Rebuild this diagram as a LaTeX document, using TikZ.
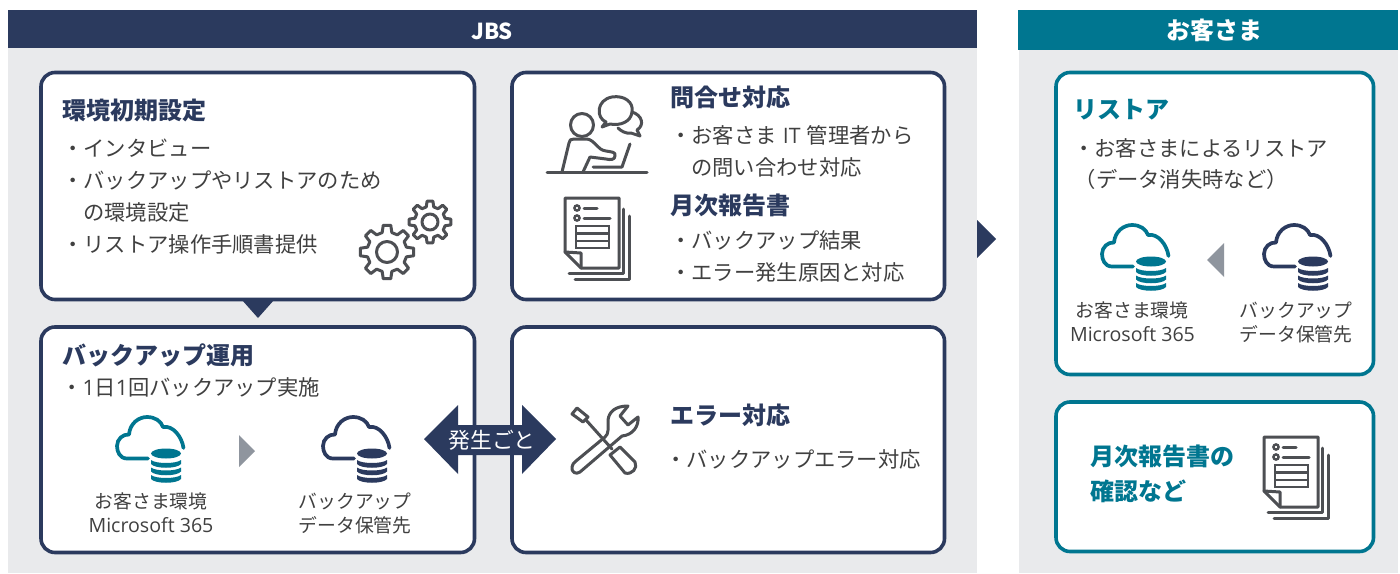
\documentclass[tikz,border=0pt]{standalone}
\usepackage{fontspec}
\setmainfont{Noto Sans CJK JP}
\newfontfamily\latinf{Open Sans}
\definecolor{navy}{HTML}{2B3A5E}
\definecolor{teal}{HTML}{007690}
\definecolor{panel}{HTML}{E9EAEC}
\definecolor{icongray}{HTML}{4D4F53}
\definecolor{txt}{HTML}{404040}
\definecolor{arrowgray}{HTML}{8F959E}
\tikzset{
  box/.style={draw=#1,line width=3.6pt,rounded corners=14pt,fill=white},
  iconline/.style={draw=icongray,line width=3pt,line join=round,line cap=round},
  body/.style={anchor=west,inner sep=0pt,text=txt,font=\fontsize{21.3}{25}\selectfont,text height=15pt,text depth=4pt},
  small/.style={anchor=center,inner sep=0pt,text=txt,font=\fontsize{18.8}{23}\selectfont,text height=14pt,text depth=4pt},
  head/.style={anchor=west,inner sep=0pt,text=#1,font=\fontsize{24}{28}\bfseries\selectfont,text height=17pt,text depth=5pt},
  band/.style={anchor=center,inner sep=0pt,text=white,font=\fontsize{#1}{26}\bfseries\selectfont}
}
\newcommand\cloudicon[3]{%
\begin{scope}[shift={(#1,#2)}]
  \draw[#3,line width=3.7pt,line cap=round,line join=round]
    (33,43.5) -- (12,43.5) .. controls (5,43.5) and (2,37) .. (2,31)
    .. controls (2,24) and (8,19) .. (14,19.5)
    .. controls (15,8) and (24,2) .. (32,2)
    .. controls (40,2) and (46,6) .. (48,12)
    .. controls (58,10) and (67,22) .. (68.5,33);
  \fill[#3] (51,38.5) ellipse [x radius=15,y radius=5];
  \foreach \b in {45,52.5,60}{
    \fill[#3] (36,\b) .. controls (41,\b+4) and (61,\b+4) .. (66,\b) -- (66,\b+4)
      .. controls (62,\b+9) and (40,\b+9) .. (36,\b+4) -- cycle;
  }
\end{scope}}
\newcommand\gearicon[6]{%
\begin{scope}[shift={(#1,#2)}]
  \draw[iconline] (-14:#4) \foreach \a in {0,45,...,315}{
     -- ({\a-14}:#4) -- ({\a-#6}:#3) -- ({\a+#6}:#3) -- ({\a+14}:#4) } -- cycle;
  \draw[iconline] (0,0) circle [radius=#5];
\end{scope}}
\newcommand\docicon[2]{%
\begin{scope}[shift={(#1,#2)}]
  \draw[iconline] (565,198) -- (619,198) -- (619,268) -- (581,268) -- (565,252) -- cycle;
  \draw[iconline] (565,252) -- (581,253) -- (581,268);
  \draw[iconline] (623.5,209) -- (623.5,273.5) -- (569,273.5);
  \draw[iconline] (629.5,216) -- (629.5,279.5) -- (575,279.5);
  \draw[icongray,line width=2.4pt] (577,208) circle [radius=2.6] (577,218) circle [radius=2.6];
  \draw[iconline] (584,208) -- (597,208) (584,218) -- (610,218);
  \draw[icongray,line width=2.6pt] (576,226) rectangle (609,248) (576,233.5) -- (609,233.5) (576,241) -- (609,241);
\end{scope}}
\begin{document}
\begin{tikzpicture}[x=1pt,y=-1pt]
\useasboundingbox (0,0) rectangle (1400,573);
\fill[white] (0,0) rectangle (1400,573);
% panels
\fill[panel] (8,48) rectangle (977,573);
\fill[panel] (1019,50) rectangle (1398,573);
\fill[navy] (8,10) rectangle (977,48);
\fill[teal] (1018,9.5) rectangle (1398,49.5);
\node[band=22] (jbs) at (492,31) {JBS};
\node[band=24] (cust) at (1214,30) {お客さま};
% boxes
\draw[box=navy] (41,72.5) rectangle (474.5,299.5);
\draw[box=navy] (512,72.5) rectangle (944.5,299.5);
\draw[box=navy] (41,327) rectangle (474.5,552.5);
\draw[box=navy] (512,327) rectangle (944.5,552.5);
\draw[box=teal] (1056,72.5) rectangle (1373.5,374.5);
\draw[box=teal] (1056,402) rectangle (1373.5,551.5);
% arrows
\fill[navy] (242,300) -- (274,300) -- (258,318) -- cycle;
\fill[navy] (977,220) -- (996,239) -- (977,258) -- cycle;
\fill[navy] (424,439) -- (458,405) -- (458,425) -- (522,425) -- (522,405) -- (556,439) -- (522,474) -- (522,455) -- (458,455) -- (458,474) -- cycle;
\fill[arrowgray] (239,435) -- (255,451) -- (239,467) -- cycle;
\fill[arrowgray] (1224,243) -- (1207,260) -- (1224,277) -- cycle;
\node[anchor=center,inner sep=0pt,text=white,font=\fontsize{21.8}{25}\selectfont] (gen) at (492,440.5) {発生ごと};
% box 1
\node[head=navy] (t1) at (62,113.5) {環境初期設定};
\node[body] (a1) at (62,151) {・インタビュー};
\node[body] (a2) at (62,183) {・バックアップやリストアのため};
\node[body] (a3) at (83,215) {の環境設定};
\node[body] (a4) at (62,247) {・リストア操作手順書提供};
\gearicon{387}{252}{27}{20}{10.5}{8}
\gearicon{430}{222}{21}{15.5}{8}{8}
% box 2
\node[head=navy] (t2) at (670,100.5) {問合せ対応};
\node[body] (b1) at (670,138) {・お客さま\hspace{1.5pt} {\latinf IT} \hspace{1.5pt}管理者から};
\node[body] (b2) at (691,170) {の問い合わせ対応};
\node[head=navy] (t3) at (670,208.5) {月次報告書};
\node[body] (b3) at (670,243) {・バックアップ結果};
\node[body] (b4) at (670,275) {・エラー発生原因と対応};
% person icon
\draw[iconline] (582,125) circle [radius=11.5];
\draw[iconline] (602,127) -- (606,122) .. controls (596,118) and (596,100) .. (612,97)
   .. controls (624,95) and (634,102) .. (632,112) .. controls (631,122) and (620,126) .. (610,124) -- cycle;
\draw[iconline] (632,112) .. controls (642,115) and (645,125) .. (637,130) -- (640,136) -- (631,133) .. controls (626,134) and (621,131) .. (618,128);
\draw[iconline] (562,172) -- (569,143) .. controls (569,140) and (571,139) .. (574,139) -- (587,139)
   .. controls (595,140) and (597,150) .. (606,151) .. controls (612,152) and (616,152) .. (615,156) .. controls (615,160) and (610,160) .. (606,159) -- (590,157) -- (583,172);
\draw[iconline] (630,144) -- (622,167) -- (593,167);
\draw[iconline] (547,172) -- (647,172);
\docicon{0}{0}
% box 3
\node[head=navy] (t4) at (62,358.5) {バックアップ運用};
\node[body] (c1) at (61,390) {・{\latinf 1}日{\latinf 1}回バックアップ実施};
\cloudicon{115}{415}{teal}
\cloudicon{321}{415}{navy}
\node[small] (c2) at (151,503) {お客さま環境};
\node[small] (c3) at (151,527) {\fontsize{19.6}{23}\latinf\selectfont Microsoft 365};
\node[small] (c4) at (355,503) {バックアップ};
\node[small] (c5) at (355,527) {データ保管先};
% box 4
\node[head=navy] (t5) at (670,418.5) {エラー対応};
\node[body] (d1) at (665,462) {・バックアップエラー対応};
% tools
\draw[iconline] (572,414) -- (577,408) -- (588,417) -- (583,422) -- cycle;
\draw[iconline] (586,420) -- (612,449);
\draw[iconline] (610,455) -- (620,447) -- (635,462) .. controls (638,468) and (632,475) .. (625,473) -- cycle;
\draw[iconline] (580,472) .. controls (576,475) and (571,472) .. (572,467) .. controls (572,464) and (574,463) .. (576,461)
  -- (605,437) .. controls (609,434) and (608,428) .. (608,420) .. controls (609,412) and (615,406) .. (628,406)
  -- (620,416) -- (628,425) -- (638,417) .. controls (639,426) and (633,435) .. (622,436) -- cycle;
% customer box 1
\node[head=teal] (t6) at (1073,112.5) {リストア};
\node[body] (e1) at (1073,151) {・お客さまによるリストア};
\node[body] (e2) at (1074.5,182) {（データ消失時など）};
\cloudicon{1100}{223}{teal}
\cloudicon{1262}{223}{navy}
\node[small] (e3) at (1132,312) {お客さま環境};
\node[small] (e4) at (1132.5,336) {\fontsize{19.6}{23}\latinf\selectfont Microsoft 365};
\node[small] (e5) at (1296,312) {バックアップ};
\node[small] (e6) at (1296,336) {データ保管先};
% customer box 2
\node[head=teal] (t7) at (1090,459.5) {月次報告書の};
\node[head=teal] (t8) at (1090,494.5) {確認など};
\docicon{699}{239}
\end{tikzpicture}
\end{document}
